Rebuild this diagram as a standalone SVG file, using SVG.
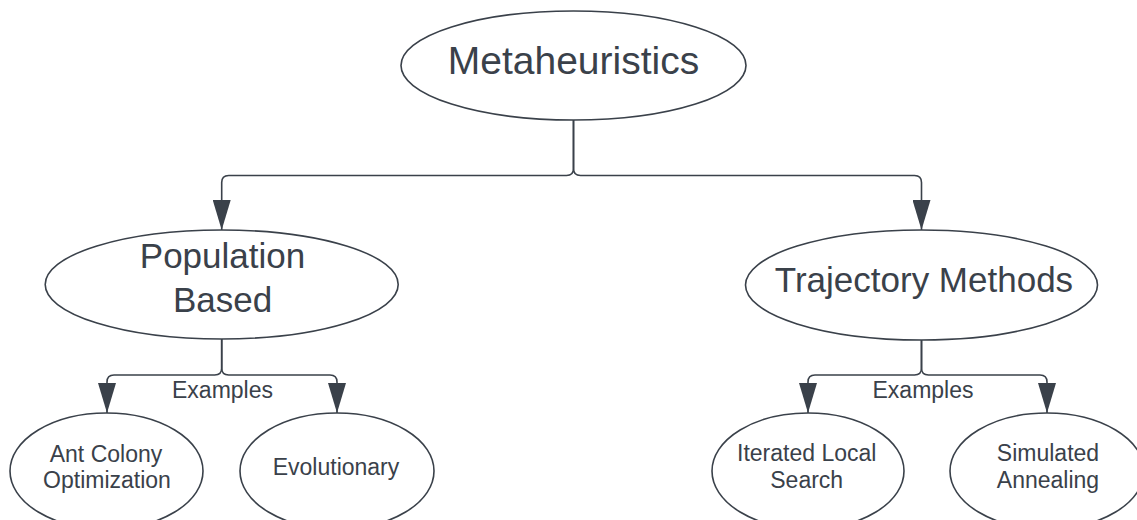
<svg xmlns="http://www.w3.org/2000/svg" width="1137" height="520" viewBox="0 0 1137 520">
  <style>
    .node { fill: #ffffff; stroke: #3a414a; stroke-width: 1.6; }
    .edge { fill: none; stroke: #3a414a; stroke-width: 1.6; }
    text { font-family: "Liberation Sans", Arial, sans-serif; fill: #3a414a; text-anchor: middle; }
    .big { font-size: 35px; }
    .title { font-size: 39px; }
    .small { font-size: 23px; }
  </style>
  <defs>
    <marker id="arrow" markerUnits="userSpaceOnUse" viewBox="0 -9 30 18" refX="30" refY="0" markerWidth="30" markerHeight="18" orient="auto">
      <path d="M0,-9 L30,0 L0,9 Z" fill="#3a414a"/>
    </marker>
  </defs>

  <rect width="1137" height="520" fill="#ffffff"/>

  <!-- connectors -->
  <g id="connectors">
    <path class="edge" d="M573.5,120 V168.5 Q573.5,175.5 566.5,175.5 H228.7 Q221.7,175.5 221.7,182.5 V230" marker-end="url(#arrow)"/>
    <path class="edge" d="M573.5,120 V168.5 Q573.5,175.5 580.5,175.5 H914.5 Q921.5,175.5 921.5,182.5 V230" marker-end="url(#arrow)"/>
    <path class="edge" d="M221.7,339 V368 Q221.7,375 214.7,375 H114 Q107,375 107,382 V413" marker-end="url(#arrow)"/>
    <path class="edge" d="M221.7,339 V368 Q221.7,375 228.7,375 H330 Q337,375 337,382 V413" marker-end="url(#arrow)"/>
    <path class="edge" d="M921.5,340 V368 Q921.5,375 914.5,375 H815 Q808,375 808,382 V413" marker-end="url(#arrow)"/>
    <path class="edge" d="M921.5,340 V368 Q921.5,375 928.5,375 H1040 Q1047,375 1047,382 V413" marker-end="url(#arrow)"/>
    <text class="small" x="222.5" y="398">Examples</text>
    <text class="small" x="923" y="398">Examples</text>
  </g>

  <g id="metaheuristics">
    <ellipse class="node" cx="573.5" cy="65.5" rx="172.5" ry="54.5"/>
    <text class="title" x="573.5" y="74">Metaheuristics</text>
  </g>

  <g id="population-based">
    <ellipse class="node" cx="221.7" cy="284.5" rx="176.5" ry="54.5"/>
    <text class="big" x="222.5" y="268">Population</text>
    <text class="big" x="222.5" y="312">Based</text>
  </g>

  <g id="trajectory-methods">
    <ellipse class="node" cx="921.5" cy="285" rx="176" ry="55"/>
    <text class="big" x="924" y="292">Trajectory Methods</text>
  </g>

  <g id="ant-colony">
    <ellipse class="node" cx="106.5" cy="471" rx="96.5" ry="58"/>
    <text class="small" x="106" y="462">Ant Colony</text>
    <text class="small" x="107" y="488">Optimization</text>
  </g>

  <g id="evolutionary">
    <ellipse class="node" cx="337" cy="471" rx="97" ry="58"/>
    <text class="small" x="336" y="475">Evolutionary</text>
  </g>

  <g id="iterated-local-search">
    <ellipse class="node" cx="808" cy="471" rx="96" ry="58"/>
    <text class="small" x="806.7" y="461">Iterated Local</text>
    <text class="small" x="806.7" y="488">Search</text>
  </g>

  <g id="simulated-annealing">
    <ellipse class="node" cx="1047" cy="471" rx="97" ry="58"/>
    <text class="small" x="1048" y="461">Simulated</text>
    <text class="small" x="1048" y="488">Annealing</text>
  </g>
</svg>
